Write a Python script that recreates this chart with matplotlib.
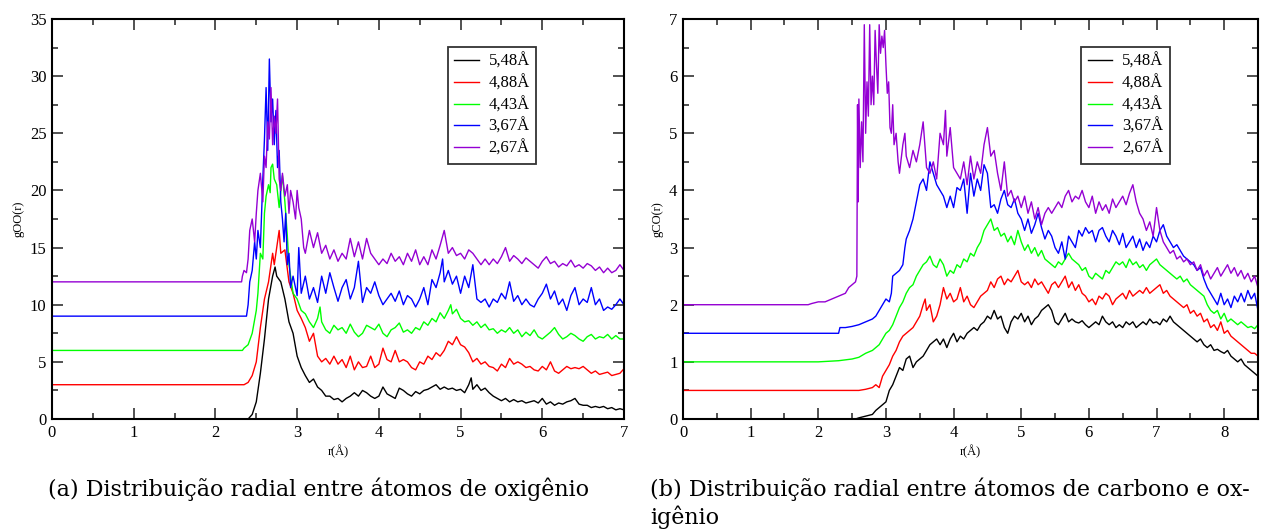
import matplotlib
matplotlib.use("Agg")
import matplotlib.pyplot as plt
from matplotlib.ticker import MultipleLocator

plt.rcParams["font.family"] = ["Liberation Serif", "DejaVu Serif"]

labels = ["5,48Å", "4,88Å", "4,43Å", "3,67Å", "2,67Å"]
colors = ["#000000", "#ff0000", "#00ff00", "#0000ff", "#9400d3"]

# gOO(r), (r, g) pairs
oo_548 = [(0, 0), (2.40, 0), (2.45, 0.4), (2.5, 1.5), (2.55, 4), (2.6, 7), (2.65, 10.5), (2.7, 12.5),
          (2.73, 13.3), (2.75, 12.5), (2.8, 12), (2.85, 10.5), (2.9, 8.5), (2.95, 7.5), (3.0, 5.5),
          (3.05, 4.5), (3.1, 3.8), (3.15, 3.2), (3.2, 3.5), (3.25, 2.8), (3.3, 2.5), (3.35, 2.0),
          (3.4, 2.0), (3.45, 1.7), (3.5, 1.8), (3.55, 1.5), (3.6, 1.8), (3.65, 2.0), (3.7, 2.3),
          (3.75, 2.0), (3.8, 2.5), (3.85, 2.3), (3.9, 2.0), (3.95, 1.8), (4.0, 2.0), (4.05, 2.8),
          (4.1, 2.2), (4.15, 2.0), (4.2, 1.8), (4.25, 2.7), (4.3, 2.5), (4.35, 2.2), (4.4, 2.0),
          (4.45, 2.4), (4.5, 2.2), (4.55, 2.5), (4.6, 2.6), (4.65, 2.8), (4.7, 3.0), (4.75, 2.6),
          (4.8, 2.8), (4.85, 2.6), (4.9, 2.7), (4.95, 2.5), (5.0, 2.6), (5.05, 2.3), (5.1, 3.0),
          (5.13, 3.6), (5.15, 2.6), (5.2, 3.0), (5.25, 2.5), (5.3, 2.7), (5.35, 2.3), (5.4, 2.0),
          (5.45, 1.8), (5.5, 1.6), (5.55, 1.8), (5.6, 1.5), (5.65, 1.7), (5.7, 1.5), (5.75, 1.6),
          (5.8, 1.4), (5.85, 1.5), (5.9, 1.6), (5.95, 1.4), (6.0, 1.8), (6.05, 1.3), (6.1, 1.5),
          (6.15, 1.2), (6.2, 1.4), (6.25, 1.3), (6.3, 1.5), (6.35, 1.6), (6.4, 1.8), (6.45, 1.3),
          (6.5, 1.2), (6.55, 1.2), (6.6, 1.0), (6.65, 1.1), (6.7, 1.0), (6.75, 1.1), (6.8, 0.9),
          (6.85, 1.0), (6.9, 0.8), (6.95, 0.9), (7.0, 0.8)]
oo_488 = [(0, 3), (2.35, 3), (2.4, 3.2), (2.45, 3.8), (2.5, 5), (2.55, 8), (2.6, 10.5), (2.65, 12),
          (2.7, 14.5), (2.72, 13.5), (2.75, 15), (2.78, 16.5), (2.8, 14.5), (2.85, 14.8), (2.9, 12),
          (2.95, 11), (3.0, 9.5), (3.05, 8.8), (3.1, 8), (3.15, 6.8), (3.2, 7.5), (3.25, 5.5),
          (3.3, 5.0), (3.35, 5.3), (3.4, 4.8), (3.45, 5.5), (3.5, 4.8), (3.55, 5.2), (3.6, 4.5),
          (3.65, 5.5), (3.7, 4.3), (3.75, 5.0), (3.8, 4.5), (3.85, 4.6), (3.9, 5.5), (3.95, 4.5),
          (4.0, 4.8), (4.05, 6.2), (4.1, 5.2), (4.15, 5.0), (4.2, 6.0), (4.25, 5.0), (4.3, 5.2),
          (4.35, 5.0), (4.4, 4.5), (4.45, 4.3), (4.5, 5.0), (4.55, 4.8), (4.6, 5.5), (4.65, 5.2),
          (4.7, 5.8), (4.75, 5.5), (4.8, 6.0), (4.85, 6.8), (4.9, 6.5), (4.95, 7.2), (5.0, 6.5),
          (5.05, 6.3), (5.1, 5.8), (5.15, 5.0), (5.2, 5.3), (5.25, 4.8), (5.3, 5.0), (5.35, 4.6),
          (5.4, 4.5), (5.45, 4.2), (5.5, 4.8), (5.55, 4.5), (5.6, 5.3), (5.65, 4.8), (5.7, 5.0),
          (5.75, 4.8), (5.8, 4.5), (5.85, 4.6), (5.9, 4.3), (5.95, 4.2), (6.0, 4.6), (6.05, 4.3),
          (6.1, 5.0), (6.15, 4.2), (6.2, 4.0), (6.25, 4.3), (6.3, 4.6), (6.35, 4.4), (6.4, 4.5),
          (6.45, 4.4), (6.5, 4.6), (6.55, 4.3), (6.6, 4.0), (6.65, 4.2), (6.7, 3.9), (6.75, 4.0),
          (6.8, 4.1), (6.85, 3.8), (6.9, 3.9), (6.95, 4.0), (7.0, 4.4)]
oo_443 = [(0, 6), (2.33, 6), (2.35, 6.2), (2.4, 6.5), (2.45, 7.5), (2.5, 9.5), (2.52, 11), (2.55, 14.5),
          (2.58, 14), (2.6, 18), (2.62, 19.5), (2.65, 20.5), (2.67, 19.8), (2.68, 22), (2.7, 22.3),
          (2.72, 21), (2.75, 20.5), (2.78, 18.5), (2.8, 20), (2.82, 21.3), (2.85, 19), (2.88, 16),
          (2.9, 13.5), (2.95, 11), (3.0, 10.5), (3.05, 9.5), (3.1, 9.2), (3.15, 8.5), (3.2, 8.0),
          (3.25, 8.8), (3.28, 9.8), (3.3, 8.5), (3.35, 7.8), (3.4, 7.5), (3.45, 8.2), (3.5, 7.8),
          (3.55, 8.0), (3.6, 7.5), (3.65, 8.3), (3.7, 7.6), (3.75, 7.2), (3.8, 7.5), (3.85, 8.2),
          (3.9, 8.0), (3.95, 7.8), (4.0, 8.3), (4.05, 7.5), (4.1, 7.2), (4.15, 7.8), (4.2, 8.0),
          (4.25, 8.4), (4.3, 7.6), (4.35, 7.8), (4.4, 7.5), (4.45, 8.0), (4.5, 7.8), (4.55, 8.5),
          (4.6, 8.2), (4.65, 8.8), (4.7, 8.5), (4.75, 9.3), (4.8, 8.8), (4.85, 9.5), (4.88, 10),
          (4.9, 9.2), (4.95, 9.6), (5.0, 8.8), (5.05, 8.5), (5.1, 8.6), (5.15, 8.2), (5.2, 8.5),
          (5.25, 8.0), (5.3, 8.3), (5.35, 7.8), (5.4, 7.9), (5.45, 7.5), (5.5, 7.8), (5.55, 7.6),
          (5.6, 8.0), (5.65, 7.5), (5.7, 7.8), (5.75, 7.2), (5.8, 7.6), (5.85, 7.3), (5.9, 7.8),
          (5.95, 7.2), (6.0, 7.0), (6.05, 7.3), (6.1, 7.6), (6.15, 8.0), (6.2, 7.4), (6.25, 7.0),
          (6.3, 7.2), (6.35, 7.5), (6.4, 7.3), (6.45, 7.0), (6.5, 6.8), (6.55, 7.2), (6.6, 7.4),
          (6.65, 7.0), (6.7, 7.2), (6.75, 7.1), (6.8, 7.4), (6.85, 7.0), (6.9, 7.3), (6.95, 7.0),
          (7.0, 7.0)]
oo_367 = [(0, 9), (2.38, 9), (2.4, 10), (2.42, 12), (2.45, 13), (2.48, 15.5), (2.5, 14), (2.52, 16.5),
          (2.55, 15), (2.58, 21), (2.6, 24.5), (2.62, 29), (2.64, 23.5), (2.66, 31.5), (2.68, 26),
          (2.7, 28), (2.72, 24), (2.74, 27), (2.76, 22), (2.78, 23.5), (2.8, 19), (2.82, 17.5),
          (2.84, 15.5), (2.86, 18), (2.88, 13.5), (2.9, 14.5), (2.92, 11.5), (2.95, 12.5),
          (3.0, 10.8), (3.02, 15), (3.05, 11), (3.1, 12.5), (3.15, 10.5), (3.2, 11.5), (3.25, 10.2),
          (3.3, 12.5), (3.35, 11), (3.4, 12.8), (3.45, 11.5), (3.5, 10.3), (3.55, 11.5), (3.6, 12.2),
          (3.65, 10.5), (3.7, 11.5), (3.75, 13.8), (3.8, 10.2), (3.85, 11.5), (3.9, 11), (3.95, 12),
          (4.0, 10.8), (4.05, 10.0), (4.1, 10.5), (4.15, 11.0), (4.2, 10.3), (4.25, 11.2),
          (4.3, 10.0), (4.35, 10.8), (4.4, 10.5), (4.45, 9.8), (4.5, 10.5), (4.55, 11.5),
          (4.6, 10.0), (4.65, 12.2), (4.7, 11.5), (4.75, 12.8), (4.78, 14.0), (4.8, 12.0),
          (4.85, 13.0), (4.9, 11.8), (4.95, 12.5), (5.0, 11.0), (5.05, 12.5), (5.1, 11.5),
          (5.15, 13.5), (5.2, 10.5), (5.25, 10.2), (5.3, 10.5), (5.35, 9.8), (5.4, 10.5),
          (5.45, 10.2), (5.5, 11.0), (5.55, 10.5), (5.6, 12.0), (5.65, 10.3), (5.7, 10.8),
          (5.75, 10.0), (5.8, 10.5), (5.85, 10.0), (5.9, 9.8), (5.95, 10.5), (6.0, 11.0),
          (6.05, 11.8), (6.1, 10.5), (6.15, 11.2), (6.2, 10.0), (6.25, 10.5), (6.3, 9.5),
          (6.35, 10.8), (6.4, 11.5), (6.45, 10.0), (6.5, 10.5), (6.55, 10.2), (6.6, 11.5),
          (6.65, 10.0), (6.7, 10.5), (6.75, 9.5), (6.8, 9.8), (6.85, 9.6), (6.9, 10.0),
          (6.95, 10.5), (7.0, 10.0)]
oo_267 = [(0, 12), (2.32, 12), (2.33, 12.5), (2.35, 13), (2.38, 12.8), (2.4, 14), (2.42, 16.5),
          (2.45, 17.5), (2.48, 15.5), (2.5, 18), (2.52, 20), (2.55, 21.5), (2.58, 19), (2.6, 23),
          (2.62, 22), (2.64, 26), (2.66, 24.5), (2.68, 29), (2.7, 24), (2.72, 26.5), (2.74, 25),
          (2.76, 28), (2.78, 21), (2.8, 20), (2.82, 21.5), (2.85, 19.5), (2.88, 20.5), (2.9, 18),
          (2.92, 20), (2.95, 19), (2.98, 17.5), (3.0, 20), (3.02, 18.5), (3.05, 17.5), (3.08, 15),
          (3.1, 14.5), (3.15, 16.5), (3.2, 15), (3.25, 16.3), (3.3, 14.5), (3.35, 15.2), (3.4, 14.0),
          (3.45, 14.8), (3.5, 13.8), (3.55, 14.5), (3.6, 14.0), (3.65, 15.8), (3.7, 14.2),
          (3.75, 15.5), (3.8, 14.0), (3.85, 15.8), (3.9, 14.5), (3.95, 14.0), (4.0, 13.5),
          (4.05, 14.0), (4.1, 13.6), (4.15, 14.5), (4.2, 13.8), (4.25, 14.2), (4.3, 13.5),
          (4.35, 14.5), (4.4, 13.8), (4.45, 14.8), (4.5, 13.5), (4.55, 14.2), (4.6, 13.5),
          (4.65, 14.8), (4.7, 14.0), (4.75, 15.2), (4.8, 16.5), (4.85, 14.5), (4.9, 15.0),
          (4.95, 14.3), (5.0, 14.5), (5.05, 14.0), (5.1, 14.8), (5.15, 14.5), (5.2, 14.0),
          (5.25, 13.5), (5.3, 14.0), (5.35, 13.5), (5.4, 14.0), (5.45, 13.6), (5.5, 14.2),
          (5.55, 15.0), (5.6, 13.8), (5.65, 14.3), (5.7, 14.0), (5.75, 13.6), (5.8, 14.1),
          (5.85, 13.8), (5.9, 13.5), (5.95, 13.2), (6.0, 13.8), (6.05, 14.2), (6.1, 13.6),
          (6.15, 13.8), (6.2, 13.3), (6.25, 13.6), (6.3, 13.4), (6.35, 13.9), (6.4, 13.3),
          (6.45, 13.5), (6.5, 13.2), (6.55, 13.6), (6.6, 13.4), (6.65, 13.0), (6.7, 13.3),
          (6.75, 12.8), (6.8, 13.2), (6.85, 12.8), (6.9, 13.0), (6.95, 13.5), (7.0, 13.0)]

# gCO(r), (r, g) pairs
co_548 = [(0, 0), (2.55, 0), (2.6, 0.02), (2.7, 0.05), (2.8, 0.08), (2.85, 0.15), (2.9, 0.2),
          (2.95, 0.25), (3.0, 0.3), (3.05, 0.5), (3.1, 0.6), (3.15, 0.75), (3.2, 0.9), (3.25, 0.85),
          (3.3, 1.05), (3.35, 1.1), (3.4, 0.9), (3.45, 1.0), (3.5, 1.05), (3.55, 1.1), (3.6, 1.2),
          (3.65, 1.3), (3.7, 1.35), (3.75, 1.4), (3.8, 1.3), (3.85, 1.4), (3.9, 1.25), (3.95, 1.4),
          (4.0, 1.5), (4.05, 1.35), (4.1, 1.45), (4.15, 1.4), (4.2, 1.5), (4.25, 1.55), (4.3, 1.6),
          (4.35, 1.55), (4.4, 1.65), (4.45, 1.7), (4.5, 1.8), (4.55, 1.75), (4.6, 1.9), (4.65, 1.75),
          (4.7, 1.8), (4.75, 1.6), (4.8, 1.5), (4.85, 1.7), (4.9, 1.8), (4.95, 1.75), (5.0, 1.85),
          (5.05, 1.7), (5.1, 1.8), (5.15, 1.65), (5.2, 1.75), (5.25, 1.8), (5.3, 1.9), (5.35, 1.95),
          (5.4, 2.0), (5.45, 1.9), (5.5, 1.7), (5.55, 1.65), (5.6, 1.75), (5.65, 1.85), (5.7, 1.7),
          (5.75, 1.75), (5.8, 1.7), (5.85, 1.68), (5.9, 1.72), (5.95, 1.65), (6.0, 1.6),
          (6.05, 1.65), (6.1, 1.7), (6.15, 1.65), (6.2, 1.8), (6.25, 1.7), (6.3, 1.65), (6.35, 1.7),
          (6.4, 1.6), (6.45, 1.65), (6.5, 1.6), (6.55, 1.7), (6.6, 1.65), (6.65, 1.7), (6.7, 1.6),
          (6.75, 1.65), (6.8, 1.7), (6.85, 1.65), (6.9, 1.75), (6.95, 1.68), (7.0, 1.7),
          (7.05, 1.65), (7.1, 1.75), (7.15, 1.7), (7.2, 1.8), (7.25, 1.7), (7.3, 1.65), (7.35, 1.6),
          (7.4, 1.55), (7.45, 1.5), (7.5, 1.45), (7.55, 1.4), (7.6, 1.35), (7.65, 1.4), (7.7, 1.3),
          (7.75, 1.25), (7.8, 1.3), (7.85, 1.2), (7.9, 1.22), (7.95, 1.18), (8.0, 1.15), (8.05, 1.2),
          (8.1, 1.1), (8.15, 1.05), (8.2, 1.0), (8.25, 1.05), (8.3, 0.95), (8.35, 0.9), (8.4, 0.85),
          (8.45, 0.8), (8.5, 0.75)]
co_488 = [(0, 0.5), (2.6, 0.5), (2.7, 0.52), (2.8, 0.55), (2.85, 0.6), (2.9, 0.55), (2.95, 0.75),
          (3.0, 0.85), (3.05, 0.95), (3.1, 1.1), (3.15, 1.2), (3.2, 1.35), (3.25, 1.45), (3.3, 1.5),
          (3.35, 1.55), (3.4, 1.6), (3.45, 1.7), (3.5, 1.8), (3.55, 2.0), (3.58, 2.1), (3.6, 1.9),
          (3.65, 2.0), (3.7, 1.7), (3.75, 1.8), (3.8, 2.0), (3.85, 2.3), (3.9, 2.1), (3.95, 2.2),
          (4.0, 2.05), (4.05, 2.1), (4.1, 2.3), (4.15, 2.05), (4.2, 2.15), (4.25, 2.0), (4.3, 1.95),
          (4.35, 2.05), (4.4, 2.15), (4.45, 2.2), (4.5, 2.25), (4.55, 2.4), (4.6, 2.3), (4.65, 2.45),
          (4.7, 2.5), (4.75, 2.35), (4.8, 2.45), (4.85, 2.4), (4.9, 2.5), (4.95, 2.6), (5.0, 2.4),
          (5.05, 2.35), (5.1, 2.4), (5.15, 2.3), (5.2, 2.45), (5.25, 2.35), (5.3, 2.4), (5.35, 2.3),
          (5.4, 2.2), (5.45, 2.35), (5.5, 2.4), (5.55, 2.3), (5.6, 2.4), (5.65, 2.5), (5.7, 2.3),
          (5.75, 2.4), (5.8, 2.25), (5.85, 2.35), (5.9, 2.2), (5.95, 2.15), (6.0, 2.05), (6.05, 2.1),
          (6.1, 2.0), (6.15, 2.15), (6.2, 2.1), (6.25, 2.2), (6.3, 2.15), (6.35, 2.0), (6.4, 2.1),
          (6.45, 2.15), (6.5, 2.2), (6.55, 2.1), (6.6, 2.25), (6.65, 2.15), (6.7, 2.2), (6.75, 2.25),
          (6.8, 2.2), (6.85, 2.3), (6.9, 2.2), (6.95, 2.25), (7.0, 2.3), (7.05, 2.35), (7.1, 2.2),
          (7.15, 2.25), (7.2, 2.15), (7.25, 2.1), (7.3, 2.05), (7.35, 2.0), (7.4, 1.95), (7.45, 2.0),
          (7.5, 1.85), (7.55, 1.9), (7.6, 1.8), (7.65, 1.85), (7.7, 1.7), (7.75, 1.75), (7.8, 1.6),
          (7.85, 1.65), (7.9, 1.55), (7.95, 1.7), (8.0, 1.5), (8.05, 1.55), (8.1, 1.45), (8.15, 1.4),
          (8.2, 1.35), (8.25, 1.3), (8.3, 1.25), (8.35, 1.2), (8.4, 1.15), (8.45, 1.15), (8.5, 1.1)]
co_443 = [(0, 1.0), (2.0, 1.0), (2.3, 1.02), (2.5, 1.05), (2.6, 1.08), (2.7, 1.15), (2.8, 1.2),
          (2.85, 1.25), (2.9, 1.3), (2.95, 1.4), (3.0, 1.5), (3.05, 1.55), (3.1, 1.65), (3.15, 1.8),
          (3.2, 1.95), (3.25, 2.05), (3.3, 2.2), (3.35, 2.3), (3.4, 2.35), (3.45, 2.5), (3.5, 2.6),
          (3.55, 2.7), (3.6, 2.75), (3.65, 2.85), (3.7, 2.7), (3.75, 2.65), (3.8, 2.8), (3.85, 2.7),
          (3.9, 2.5), (3.95, 2.6), (4.0, 2.55), (4.05, 2.7), (4.1, 2.65), (4.15, 2.8), (4.2, 2.75),
          (4.25, 2.9), (4.3, 2.85), (4.35, 3.0), (4.4, 3.1), (4.45, 3.3), (4.5, 3.4), (4.55, 3.5),
          (4.6, 3.3), (4.65, 3.35), (4.7, 3.2), (4.75, 3.25), (4.8, 3.1), (4.85, 3.2), (4.9, 3.05),
          (4.95, 3.3), (5.0, 3.1), (5.05, 2.95), (5.1, 3.05), (5.15, 2.9), (5.2, 3.0), (5.25, 2.85),
          (5.3, 2.95), (5.35, 2.8), (5.4, 2.75), (5.45, 2.7), (5.5, 2.65), (5.55, 2.75), (5.6, 2.7),
          (5.65, 2.8), (5.7, 2.9), (5.75, 2.8), (5.8, 2.75), (5.85, 2.7), (5.9, 2.6), (5.95, 2.65),
          (6.0, 2.5), (6.05, 2.45), (6.1, 2.55), (6.15, 2.5), (6.2, 2.45), (6.25, 2.6), (6.3, 2.55),
          (6.35, 2.65), (6.4, 2.75), (6.45, 2.7), (6.5, 2.75), (6.55, 2.65), (6.6, 2.8), (6.65, 2.7),
          (6.7, 2.75), (6.75, 2.65), (6.8, 2.7), (6.85, 2.6), (6.9, 2.7), (6.95, 2.75), (7.0, 2.8),
          (7.05, 2.7), (7.1, 2.65), (7.15, 2.6), (7.2, 2.55), (7.25, 2.5), (7.3, 2.45), (7.35, 2.5),
          (7.4, 2.4), (7.45, 2.45), (7.5, 2.35), (7.55, 2.3), (7.6, 2.25), (7.65, 2.2), (7.7, 2.15),
          (7.75, 2.0), (7.8, 1.9), (7.85, 1.85), (7.9, 1.9), (7.95, 1.75), (8.0, 1.85), (8.05, 1.7),
          (8.1, 1.75), (8.15, 1.7), (8.2, 1.65), (8.25, 1.7), (8.3, 1.65), (8.35, 1.6), (8.4, 1.62),
          (8.45, 1.58), (8.5, 1.65)]
co_367 = [(0, 1.5), (2.3, 1.5), (2.32, 1.6), (2.4, 1.6), (2.5, 1.62), (2.6, 1.65), (2.7, 1.7),
          (2.8, 1.75), (2.85, 1.8), (2.9, 1.9), (2.95, 2.0), (3.0, 2.1), (3.05, 2.05), (3.08, 2.2),
          (3.1, 2.5), (3.15, 2.55), (3.2, 2.6), (3.25, 2.7), (3.28, 3.0), (3.3, 3.15), (3.35, 3.3),
          (3.4, 3.5), (3.45, 3.8), (3.5, 4.1), (3.55, 4.2), (3.6, 4.0), (3.65, 4.5), (3.7, 4.3),
          (3.75, 4.1), (3.8, 4.0), (3.85, 3.9), (3.9, 3.7), (3.95, 3.9), (4.0, 3.7), (4.05, 4.05),
          (4.1, 4.0), (4.15, 4.2), (4.2, 3.6), (4.25, 4.3), (4.3, 3.9), (4.35, 4.2), (4.4, 4.0),
          (4.45, 4.45), (4.5, 4.3), (4.55, 3.7), (4.6, 3.75), (4.65, 3.6), (4.7, 3.85), (4.75, 4.0),
          (4.8, 3.75), (4.85, 3.7), (4.9, 3.85), (4.95, 3.6), (5.0, 3.5), (5.05, 3.3), (5.1, 3.5),
          (5.15, 3.25), (5.2, 3.4), (5.25, 3.6), (5.3, 3.35), (5.35, 3.15), (5.4, 3.3), (5.45, 3.2),
          (5.5, 3.0), (5.55, 2.9), (5.6, 3.1), (5.65, 2.8), (5.7, 3.2), (5.75, 3.1), (5.8, 3.0),
          (5.85, 3.3), (5.9, 3.2), (5.95, 3.35), (6.0, 3.25), (6.05, 3.3), (6.1, 3.1), (6.15, 3.3),
          (6.2, 3.35), (6.25, 3.2), (6.3, 3.1), (6.35, 3.3), (6.4, 3.2), (6.45, 3.05), (6.5, 3.25),
          (6.55, 3.0), (6.6, 3.1), (6.65, 3.2), (6.7, 3.0), (6.75, 3.15), (6.8, 2.95), (6.85, 3.1),
          (6.9, 3.0), (6.95, 3.2), (7.0, 3.1), (7.05, 3.3), (7.1, 3.4), (7.15, 3.2), (7.2, 3.1),
          (7.25, 3.0), (7.3, 3.05), (7.35, 2.95), (7.4, 2.85), (7.45, 2.8), (7.5, 2.75), (7.55, 2.7),
          (7.6, 2.6), (7.65, 2.65), (7.7, 2.45), (7.75, 2.3), (7.8, 2.2), (7.85, 2.1), (7.9, 2.0),
          (7.95, 2.2), (8.0, 2.0), (8.05, 2.1), (8.1, 1.95), (8.15, 2.15), (8.2, 2.05), (8.25, 2.2),
          (8.3, 2.05), (8.35, 2.25), (8.4, 2.1), (8.45, 2.2), (8.5, 1.9)]
co_267 = [(0, 2.0), (1.85, 2.0), (1.9, 2.02), (2.0, 2.05), (2.1, 2.05), (2.2, 2.1), (2.3, 2.15),
          (2.4, 2.2), (2.45, 2.3), (2.5, 2.35), (2.55, 2.4), (2.57, 2.5), (2.58, 5.5), (2.59, 3.8),
          (2.6, 5.6), (2.62, 4.4), (2.64, 5.2), (2.66, 4.5), (2.68, 6.9), (2.7, 5.0), (2.72, 5.9),
          (2.74, 5.3), (2.76, 6.9), (2.78, 5.5), (2.8, 6.0), (2.82, 5.5), (2.84, 6.8), (2.86, 6.2),
          (2.88, 5.7), (2.9, 6.9), (2.92, 6.4), (2.94, 6.7), (2.96, 6.5), (2.98, 6.8), (3.0, 6.2),
          (3.02, 5.7), (3.04, 5.9), (3.06, 5.1), (3.08, 5.0), (3.1, 5.5), (3.12, 4.8), (3.15, 5.0),
          (3.18, 4.5), (3.2, 4.3), (3.25, 4.8), (3.28, 5.0), (3.3, 4.6), (3.35, 4.4), (3.4, 4.7),
          (3.45, 4.5), (3.5, 4.8), (3.55, 5.2), (3.6, 4.4), (3.65, 4.3), (3.7, 4.5), (3.75, 4.2),
          (3.8, 5.0), (3.85, 4.8), (3.88, 5.4), (3.9, 4.6), (3.95, 5.1), (4.0, 4.4), (4.05, 4.3),
          (4.1, 4.2), (4.15, 4.5), (4.2, 4.1), (4.25, 4.6), (4.3, 4.2), (4.35, 4.5), (4.4, 4.3),
          (4.45, 4.8), (4.5, 5.1), (4.55, 4.6), (4.6, 4.7), (4.65, 4.3), (4.7, 4.0), (4.75, 4.5),
          (4.8, 3.9), (4.85, 4.0), (4.9, 3.8), (4.95, 3.9), (5.0, 3.7), (5.05, 3.9), (5.1, 3.6),
          (5.15, 3.8), (5.2, 3.5), (5.25, 3.7), (5.3, 3.4), (5.35, 3.6), (5.4, 3.7), (5.45, 3.6),
          (5.5, 3.7), (5.55, 3.8), (5.6, 3.7), (5.65, 3.9), (5.7, 4.0), (5.75, 3.8), (5.8, 3.9),
          (5.85, 3.85), (5.9, 4.0), (5.95, 3.8), (6.0, 3.7), (6.05, 3.9), (6.1, 3.6), (6.15, 3.8),
          (6.2, 3.65), (6.25, 3.75), (6.3, 3.6), (6.35, 3.85), (6.4, 3.7), (6.45, 3.8), (6.5, 3.9),
          (6.55, 3.75), (6.6, 3.95), (6.65, 4.1), (6.7, 3.8), (6.75, 3.6), (6.8, 3.5), (6.85, 3.3),
          (6.9, 3.45), (6.95, 3.2), (7.0, 3.7), (7.05, 3.3), (7.1, 3.1), (7.15, 3.0), (7.2, 2.9),
          (7.25, 2.95), (7.3, 2.8), (7.35, 2.85), (7.4, 2.75), (7.45, 2.8), (7.5, 2.7), (7.55, 2.75),
          (7.6, 2.6), (7.65, 2.7), (7.7, 2.5), (7.75, 2.6), (7.8, 2.45), (7.85, 2.55), (7.9, 2.65),
          (7.95, 2.5), (8.0, 2.6), (8.05, 2.7), (8.1, 2.55), (8.15, 2.65), (8.2, 2.5), (8.25, 2.6),
          (8.3, 2.45), (8.35, 2.55), (8.4, 2.4), (8.45, 2.5), (8.5, 2.3)]

oo_series = [oo_548, oo_488, oo_443, oo_367, oo_267]
co_series = [co_548, co_488, co_443, co_367, co_267]

fig = plt.figure(figsize=(12.67, 5.30), dpi=100)
ax1 = fig.add_axes([52 / 1267, 1 - 419 / 530, 572 / 1267, 400 / 530])
ax2 = fig.add_axes([683 / 1267, 1 - 419 / 530, 575 / 1267, 400 / 530])


def draw(ax, series, xmax, ymax, ymaj, ylabel):
    for data, c, lab in zip(series, colors, labels):
        r = [p[0] for p in data]
        g = [p[1] for p in data]
        ax.plot(r, g, color=c, lw=1.0, label=lab)
    ax.set_xlim(0, xmax)
    ax.set_ylim(0, ymax)
    ax.xaxis.set_major_locator(MultipleLocator(1))
    ax.xaxis.set_minor_locator(MultipleLocator(0.5))
    ax.yaxis.set_major_locator(MultipleLocator(ymaj))
    ax.yaxis.set_minor_locator(MultipleLocator(ymaj / 2))
    ax.tick_params(which="both", direction="in", top=True, right=True, labelsize=12,
                   width=1.1, color="#222222")
    ax.tick_params(which="major", length=8, pad=4)
    ax.tick_params(which="minor", length=4.5)
    for sp in ax.spines.values():
        sp.set_linewidth(1.5)
    ax.set_xlabel("r(Å)", fontsize=9, labelpad=3)
    ax.set_ylabel(ylabel, fontsize=9, labelpad=4)
    leg = ax.legend(loc="upper right", bbox_to_anchor=(0.847, 0.93), fontsize=12,
                    handlelength=1.45, handletextpad=0.6, fancybox=False, framealpha=1,
                    borderaxespad=0, labelspacing=0.33, borderpad=0.4)
    leg.get_frame().set_edgecolor("#333333")
    leg.get_frame().set_linewidth(1.3)


draw(ax1, oo_series, 7, 35, 5, "gOO(r)")
draw(ax2, co_series, 8.5, 7, 1, "gCO(r)")

cap = dict(fontsize=16, va="center", ha="left", family=["DejaVu Serif"])
fig.text(48 / 1267, 1 - 489 / 530, "(a) Distribuição radial entre átomos de oxigênio", **cap)
fig.text(650 / 1267, 1 - 489 / 530, "(b) Distribuição radial entre átomos de carbono e ox-", **cap)
fig.text(650 / 1267, 1 - 517 / 530, "igênio", **cap)

fig.savefig("out.png", dpi=100)
